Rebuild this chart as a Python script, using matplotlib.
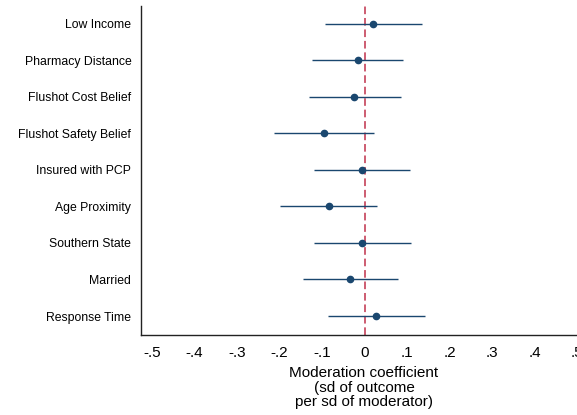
import matplotlib
matplotlib.use("Agg")
from matplotlib import pyplot as plt

plt.rcParams["font.family"] = ["Liberation Sans", "DejaVu Sans"]

# moderators, top to bottom
labels = ["Low Income", "Pharmacy Distance", "Flushot Cost Belief",
          "Flushot Safety Belief", "Insured with PCP", "Age Proximity",
          "Southern State", "Married", "Response Time"]
coef = [0.021, -0.016, -0.024, -0.095, -0.007, -0.084, -0.005, -0.034, 0.027]
ci_lo = [-0.092, -0.124, -0.131, -0.213, -0.120, -0.198, -0.120, -0.146, -0.086]
ci_hi = [0.135, 0.091, 0.085, 0.023, 0.107, 0.030, 0.110, 0.079, 0.142]
xticks = [-0.5, -0.4, -0.3, -0.2, -0.1, 0, 0.1, 0.2, 0.3, 0.4, 0.5]
xticklabels = ["-.5", "-.4", "-.3", "-.2", "-.1", "0", ".1", ".2", ".3", ".4", ".5"]

navy = "#1a476f"

fig = plt.figure(figsize=(5.77, 4.15), dpi=100)
# plot region runs a little past the right edge of the figure
ax = fig.add_axes([0.2444, 0.1928, 0.773, 0.7927])

ypos = list(range(len(labels)))
ax.axvline(0, color="#c0304a", lw=1.1, ls=(0, (5, 2.5)), zorder=1)
ax.hlines(ypos, ci_lo, ci_hi, color=navy, lw=1.0, zorder=2)
ax.plot(coef, ypos, "o", color=navy, ms=4.5, zorder=3)

ax.set_xlim(-0.526, 0.5235)
ax.set_ylim(8.52, -0.49)
ax.set_yticks(ypos)
ax.set_yticklabels(labels, fontsize=8.8)
ax.set_xticks(xticks)
ax.set_xticklabels(xticklabels, fontsize=11)
ax.tick_params(axis="both", length=0)
ax.tick_params(axis="y", pad=7)
ax.tick_params(axis="x", pad=8)

ax.set_xlabel("Moderation coefficient\n(sd of outcome\nper sd of moderator)",
              fontsize=11, linespacing=1.08, labelpad=4)

for side in ["top", "right"]:
    ax.spines[side].set_visible(False)
for side in ["left", "bottom"]:
    ax.spines[side].set_linewidth(1.0)
    ax.spines[side].set_color("#222222")

fig.savefig("out.png", dpi=100)
